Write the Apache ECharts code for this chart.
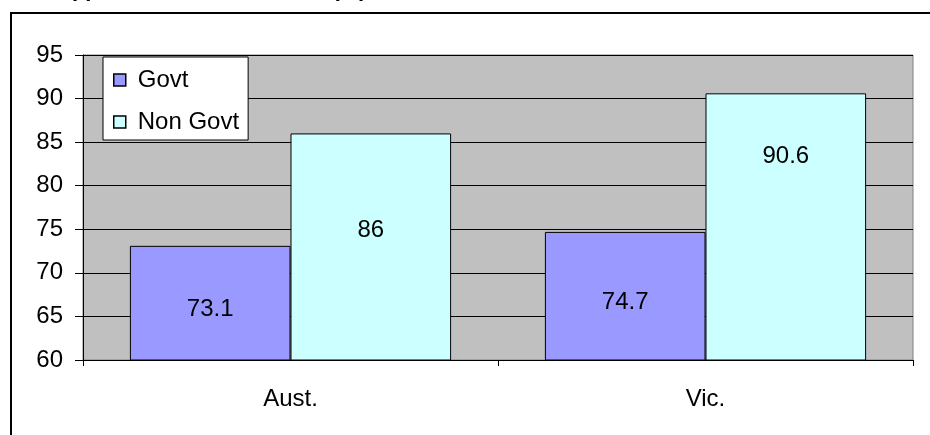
<!DOCTYPE html>
<html>
<head>
<meta charset="utf-8">
<script src="https://cdn.jsdelivr.net/npm/echarts@6/dist/echarts.min.js"></script>
<style>
html,body{margin:0;padding:0;background:#fff;}
#c{width:930px;height:435px;}
</style>
</head>
<body>
<div id="c"></div>
<script>
var categories = ['Aust.', 'Vic.'];
var govt = [73.1, 74.7];
var nonGovt = [86, 90.6];
var seriesNames = ['Govt', 'Non Govt'];
var titleText = 'Apparent Retention Rates (%)';

// label vertical nudges (styling only)
var govtLabelDy = [6, 6];
var nonGovtLabelDy = [-17, -71];

var FONT = 'Arial, "Liberation Sans", sans-serif';
var chart = echarts.init(document.getElementById('c'), null, {renderer: 'canvas'});
function items(vals, dys) {
  return vals.map(function (v, i) {
    return {value: v, label: {offset: [0, dys[i]]}};
  });
}
var labelCfg = {show: true, position: 'inside', color: '#000', fontSize: 24, fontFamily: FONT};
chart.setOption({
  animation: false,
  backgroundColor: '#fff',
  graphic: [
    {type: 'rect', shape: {x: 11, y: 13, width: 940, height: 440}, style: {fill: 'none', stroke: '#000', lineWidth: 2}, z: 0},
    {type: 'text', x: 56, y: -21, style: {text: titleText, font: 'bold 22px ' + FONT, fill: '#000'}}
  ],
  legend: {
    orient: 'vertical', left: 103, top: 57, icon: 'rect',
    backgroundColor: '#fff', borderColor: '#000', borderWidth: 1,
    padding: [11, 9, 6, 10], itemGap: 18, itemWidth: 12, itemHeight: 12,
    textStyle: {fontSize: 24, color: '#000', fontFamily: FONT, padding: [0, 0, 0, 7]},
    itemStyle: {borderColor: '#000', borderWidth: 1.5},
    data: seriesNames
  },
  grid: {left: 83, right: 17, top: 55, bottom: 75, show: true, backgroundColor: '#C0C0C0', borderColor: '#808080', borderWidth: 1},
  xAxis: {
    type: 'category', data: categories,
    axisLine: {lineStyle: {color: '#000', width: 1}},
    axisTick: {show: true, length: 6, lineStyle: {color: '#000'}},
    axisLabel: {fontSize: 24, color: '#000', fontFamily: FONT, margin: 27}
  },
  yAxis: {
    type: 'value', min: 60, max: 95, interval: 5,
    axisLine: {show: true, lineStyle: {color: '#000'}},
    axisTick: {show: true, length: 8, lineStyle: {color: '#000'}},
    axisLabel: {fontSize: 24, color: '#000', fontFamily: FONT, margin: 20},
    splitLine: {lineStyle: {color: '#000', width: 1}}
  },
  series: [
    {name: seriesNames[0], type: 'bar', data: items(govt, govtLabelDy), barGap: '0%', barCategoryGap: '22.6%',
     itemStyle: {color: '#9999FF', borderColor: '#000', borderWidth: 1}, label: labelCfg},
    {name: seriesNames[1], type: 'bar', data: items(nonGovt, nonGovtLabelDy), barGap: '0%', barCategoryGap: '22.6%',
     itemStyle: {color: '#CCFFFF', borderColor: '#000', borderWidth: 1}, label: labelCfg}
  ]
});
</script>
</body>
</html>
